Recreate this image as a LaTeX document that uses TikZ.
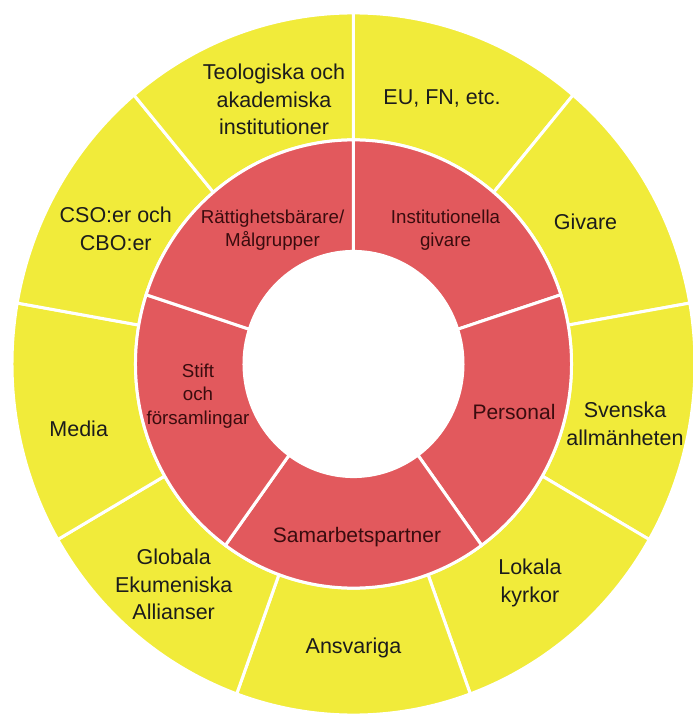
\documentclass[tikz,border=0pt]{standalone}
\usepackage{fontspec}
\setmainfont{Liberation Sans}
\definecolor{ringyellow}{RGB}{241, 235, 58}
\definecolor{ringred}{RGB}{226, 89, 93}
\definecolor{redtext}{RGB}{58, 12, 14}
\definecolor{darktext}{RGB}{28, 28, 28}
\usepackage{tikz}

\tikzset{
  segment/.style={draw=white, line width=3pt, line join=miter},
  outerlabel/.style={align=center, text=darktext, inner sep=0pt,
    font=\fontsize{21.5}{27.4}\selectfont},
  innerlabel/.style={align=center, text=redtext, inner sep=0pt,
    font=\fontsize{18.7}{23.2}\selectfont},
  biglabel/.style={innerlabel, font=\fontsize{21}{25}\selectfont}
}

\begin{document}
\begin{tikzpicture}
\useasboundingbox (-353.5pt,-351pt) rectangle (339.5pt,364pt);

\begin{scope}[yscale=1.028]
  % outer ring: nine equal slices
  \foreach \i in {0,...,8}{
    \pgfmathsetmacro{\s}{90-40*\i}
    \pgfmathsetmacro{\e}{50-40*\i}
    \draw[segment, fill=ringyellow] (\s:218pt)
      arc[start angle=\s, end angle=\e, radius=218pt]
      -- (\e:341.5pt) arc[start angle=\e, end angle=\s, radius=341.5pt] -- cycle;
  }
  % inner ring: five equal slices
  \foreach \i in {0,...,4}{
    \pgfmathsetmacro{\s}{90-72*\i}
    \pgfmathsetmacro{\e}{18-72*\i}
    \draw[segment, fill=ringred] (\s:109.5pt)
      arc[start angle=\s, end angle=\e, radius=109.5pt]
      -- (\e:218pt) arc[start angle=\e, end angle=\s, radius=218pt] -- cycle;
  }
\end{scope}

% outer labels
\node[outerlabel] (teol) at (-79.5pt,264.6pt) {Teologiska och\\akademiska\\institutioner};
\node[outerlabel] (eufn) at (88.5pt,266pt) {EU, FN, etc.};
\node[outerlabel] (givare) at (232pt,142pt) {Givare};
\node[outerlabel] (svenska) at (271.5pt,-60pt) {Svenska\\allmänheten};
\node[outerlabel] (lokala) at (176.5pt,-218.8pt) {Lokala\\kyrkor};
\node[outerlabel] (ansvar) at (0pt,-284.4pt) {Ansvariga};
\node[outerlabel] (globala) at (-179.8pt,-220.6pt) {Globala\\Ekumeniska\\Allianser};
\node[outerlabel] (media) at (-274.8pt,-64.6pt) {Media};
\node[outerlabel] (cso) at (-237.7pt,135pt) {CSO:er och\\CBO:er};

% inner labels
\node[innerlabel] (rights) at (-81pt,134pt) {Rättighetsbärare/\\Målgrupper};
\node[innerlabel] (instgiv) at (92pt,133.5pt) {Institutionella\\givare};
\node[biglabel] (personal) at (160.5pt,-47.7pt) {Personal};
\node[biglabel] (samarb) at (3.5pt,-173pt) {Samarbetspartner};
\node[innerlabel] (stift) at (-155.5pt,-32pt) {Stift\\och\\församlingar};
\end{tikzpicture}
\end{document}
